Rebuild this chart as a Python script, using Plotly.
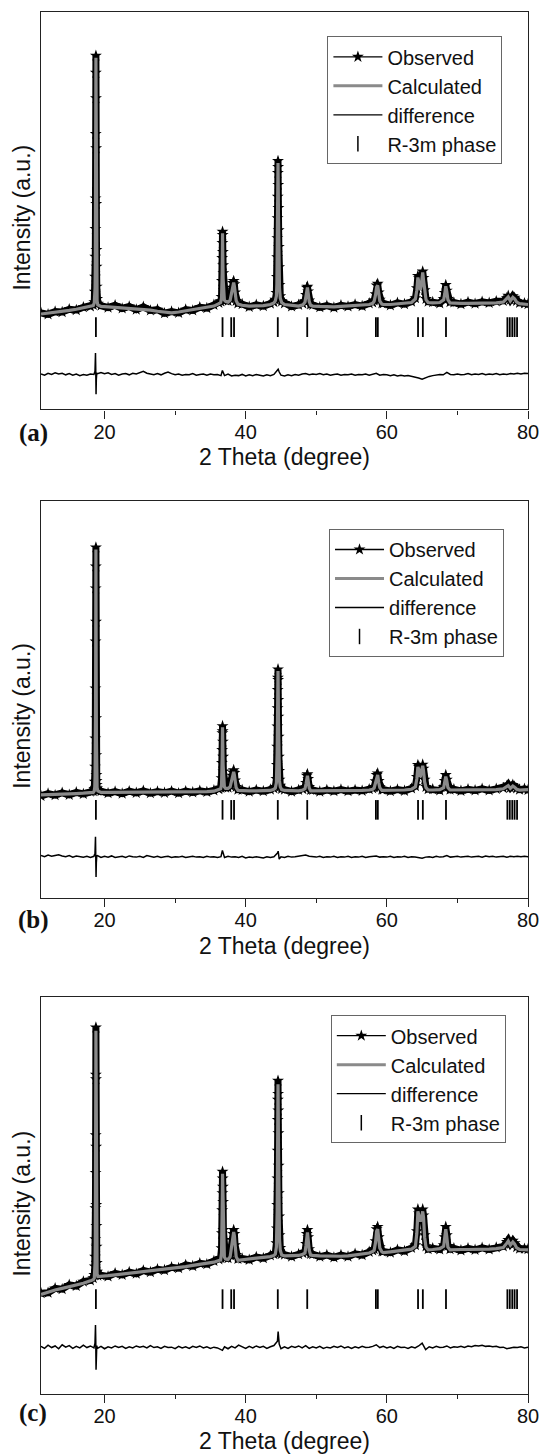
import plotly.graph_objects as go

# ---------------- data ----------------
# shared 2-theta sampling for observed / calculated profiles
TWO_THETA = [
    11.0, 12.0, 13.0, 14.0, 15.0, 16.0, 17.0, 18.0, 18.4,
    18.55, 18.62, 18.66, 18.69, 18.71, 18.73, 18.75, 18.77, 18.78, 18.79, 18.81, 18.83, 18.85, 18.87, 18.90, 18.95, 19.05,
    19.5, 20.5, 21.5, 22.5, 23.5, 24.5, 25.5, 26.5, 27.5, 28.5, 29.5, 30.5, 31.5, 32.5, 33.5, 34.5, 35.5, 36.2,
    36.45, 36.58, 36.63, 36.67, 36.70, 36.72, 36.74, 36.77, 36.80, 36.84, 36.89, 36.98, 37.15,
    37.5, 37.8, 37.95, 38.1, 38.2, 38.3, 38.4, 38.5, 38.65, 38.9,
    39.5, 40.5, 41.5, 42.5, 43.5, 44.0,
    44.2, 44.35, 44.42, 44.46, 44.49, 44.52, 44.54, 44.56, 44.58, 44.60, 44.62, 44.64, 44.67, 44.70, 44.74, 44.79, 44.9, 45.1,
    45.5, 46.5, 47.5, 48.1,
    48.4, 48.55, 48.65, 48.75, 48.85, 49.0, 49.2,
    49.5, 50.5, 51.5, 52.5, 53.5, 54.5, 55.5, 56.5, 57.5, 58.0,
    58.2, 58.4, 58.55, 58.7, 58.85, 59.0, 59.3,
    59.5, 60.5, 61.5, 62.5, 63.5,
    64.05, 64.25, 64.4, 64.55, 64.75, 64.9, 65.08, 65.2, 65.35, 65.55, 65.85,
    66.5, 67.5,
    68.05, 68.2, 68.35, 68.5, 68.65, 68.95,
    69.5, 70.5, 71.5, 72.5, 73.5, 74.5, 75.5, 76.5,
    77.0, 77.2, 77.5, 77.85, 78.1, 78.4, 78.8,
    79.5, 80.0,
]

OBS_A = [
    24.3, 23.9, 24.6, 24.5, 25.2, 25.0, 25.7, 25.9, 26.3,
    27.0, 29.6, 33.4, 38.4, 45.4, 53.1, 69.3, 84.7, 89.0, 78.3, 65.7, 51.7, 40.1, 35.9, 30.9, 27.8, 26.6,
    26.1, 25.6, 26.2, 25.4, 25.9, 25.1, 25.8, 24.9, 25.1, 24.2, 24.6, 24.3, 25.1, 24.9, 25.7, 25.5, 26.3, 26.8,
    27.2, 28.3, 32.3, 38.1, 41.9, 44.7, 43.9, 39.6, 36.3, 34.3, 30.0, 28.3, 27.4,
    27.3, 27.9, 29.3, 30.6, 31.8, 32.3, 31.5, 29.4, 27.3, 26.7,
    26.5, 25.8, 26.3, 26.0, 26.6, 27.0,
    27.6, 29.3, 33.3, 38.3, 43.1, 48.1, 53.5, 59.5, 62.5, 61.0, 56.5, 50.7, 45.1, 40.9, 35.8, 31.3, 28.5, 27.2,
    26.7, 25.9, 26.3, 26.6,
    27.2, 28.8, 30.6, 30.9, 29.7, 27.4, 26.4,
    26.3, 25.7, 26.1, 25.6, 26.2, 25.9, 26.4, 26.0, 26.7, 26.9,
    27.4, 29.0, 31.2, 31.6, 29.4, 27.6, 26.7,
    26.7, 26.2, 26.8, 26.5, 27.1,
    28.0, 30.5, 33.6, 33.0, 30.8, 32.4, 34.7, 33.1, 30.0, 27.8, 27.1,
    27.0, 26.7,
    27.8, 29.3, 31.3, 29.9, 27.8, 27.0,
    26.9, 26.5, 27.0, 26.6, 27.1, 26.8, 27.2, 27.3,
    28.0, 28.6, 27.6, 28.5, 28.1, 27.3, 26.8,
    26.7, 26.5,
]
CALC_A = [
    24.0, 24.2, 24.4, 24.7, 24.9, 25.2, 25.5, 25.8, 26.1,
    26.8, 28.0, 30.5, 35.0, 40.0, 48.0, 62.0, 80.0, 88.5, 82.0, 66.0, 50.0, 40.0, 34.0, 29.5, 27.3, 26.3,
    25.9, 25.8, 25.7, 25.6, 25.5, 25.4, 25.2, 25.0, 24.7, 24.4, 24.3, 24.5, 24.8, 25.1, 25.4, 25.7, 26.0, 26.6,
    26.9, 28.0, 30.0, 34.5, 40.0, 44.3, 42.0, 37.0, 33.0, 30.0, 28.3, 27.5, 27.2,
    27.0, 27.5, 28.6, 30.0, 31.2, 31.9, 31.0, 29.0, 27.4, 26.5,
    26.2, 26.0, 26.0, 26.1, 26.4, 26.8,
    27.3, 28.5, 31.5, 36.0, 41.0, 47.0, 53.0, 59.0, 62.0, 60.0, 55.0, 49.5, 44.0, 39.5, 34.5, 30.5, 28.0, 26.9,
    26.4, 26.1, 26.0, 26.3,
    27.0, 28.5, 30.2, 30.7, 29.3, 27.2, 26.2,
    26.0, 25.9, 25.8, 25.8, 25.9, 26.0, 26.1, 26.2, 26.4, 26.7,
    27.2, 28.8, 30.8, 31.2, 29.0, 27.3, 26.5,
    26.4, 26.4, 26.5, 26.6, 26.9,
    27.8, 30.0, 33.2, 32.0, 30.0, 31.5, 34.5, 32.5, 29.5, 27.6, 26.9,
    26.8, 26.9,
    27.6, 29.0, 31.0, 29.6, 27.6, 26.8,
    26.7, 26.7, 26.7, 26.7, 26.7, 26.7, 26.8, 27.0,
    27.8, 28.3, 27.3, 28.2, 27.8, 27.0, 26.6,
    26.5, 26.4,
]

OBS_B = [
    25.7, 26.3, 25.9, 26.5, 26.0, 26.6, 26.2, 26.8, 26.9,
    27.5, 29.3, 33.1, 40.2, 52.8, 64.6, 78.0, 83.5, 88.3, 69.6, 45.3, 36.0, 31.0, 29.5, 28.5, 27.6, 27.0,
    26.9, 26.4, 26.8, 26.3, 26.9, 26.5, 27.0, 26.4, 26.8, 26.5, 26.9, 26.4, 26.9, 26.6, 27.0, 26.7, 27.1, 27.4,
    27.8, 30.2, 34.0, 37.3, 41.5, 43.3, 42.0, 39.4, 35.6, 31.9, 29.5, 28.3, 27.8,
    27.8, 28.3, 29.8, 30.8, 31.6, 32.2, 31.5, 29.6, 28.0, 27.3,
    27.2, 26.8, 27.2, 26.9, 27.3, 27.6,
    28.0, 30.0, 33.5, 38.1, 43.2, 47.8, 52.4, 55.5, 57.6, 54.9, 49.9, 45.7, 40.6, 35.6, 32.0, 29.8, 28.3, 27.5,
    27.3, 26.8, 27.2, 27.4,
    27.8, 29.0, 30.8, 31.2, 30.0, 28.0, 27.2,
    27.2, 26.8, 27.2, 26.9, 27.3, 26.9, 27.2, 27.0, 27.4, 27.6,
    27.9, 29.4, 31.0, 31.4, 29.5, 28.0, 27.3,
    27.3, 26.9, 27.3, 27.0, 27.6,
    28.2, 30.5, 33.5, 33.0, 31.3, 32.5, 33.6, 32.6, 29.8, 28.0, 27.4,
    27.4, 27.1,
    28.0, 29.5, 31.0, 29.8, 28.0, 27.3,
    27.4, 27.0, 27.4, 27.1, 27.5, 27.1, 27.5, 27.7,
    28.2, 28.6, 27.8, 28.5, 28.1, 27.6, 27.3,
    27.5, 27.2,
]
CALC_B = [
    26.0, 26.1, 26.1, 26.2, 26.2, 26.3, 26.4, 26.5, 26.6,
    27.0, 28.0, 30.5, 35.0, 40.0, 48.0, 62.0, 80.0, 87.8, 82.0, 66.0, 50.0, 40.0, 34.0, 29.8, 27.8, 27.0,
    26.6, 26.6, 26.6, 26.6, 26.6, 26.6, 26.6, 26.6, 26.6, 26.6, 26.6, 26.6, 26.7, 26.7, 26.8, 26.8, 26.9, 27.2,
    27.5, 28.5, 31.0, 35.5, 40.5, 43.0, 41.0, 37.0, 33.5, 30.5, 28.8, 28.0, 27.6,
    27.6, 28.0, 29.3, 30.3, 31.2, 31.8, 31.0, 29.2, 27.8, 27.1,
    27.0, 27.0, 27.0, 27.0, 27.1, 27.4,
    27.7, 29.0, 32.0, 36.5, 41.5, 46.5, 51.5, 55.5, 57.2, 55.0, 50.5, 45.5, 40.5, 36.0, 32.0, 29.5, 28.0, 27.3,
    27.1, 27.0, 27.0, 27.2,
    27.5, 28.7, 30.4, 30.8, 29.6, 27.7, 27.0,
    27.0, 27.0, 27.0, 27.0, 27.0, 27.0, 27.0, 27.1, 27.2, 27.4,
    27.7, 29.0, 30.7, 31.0, 29.1, 27.8, 27.1,
    27.1, 27.1, 27.1, 27.2, 27.4,
    28.0, 30.0, 33.0, 32.2, 30.5, 32.0, 33.3, 32.0, 29.3, 27.8, 27.2,
    27.2, 27.3,
    27.8, 29.2, 30.6, 29.5, 27.8, 27.2,
    27.2, 27.2, 27.2, 27.2, 27.2, 27.2, 27.3, 27.5,
    28.0, 28.3, 27.6, 28.2, 27.9, 27.4, 27.2,
    27.3, 27.3,
]

OBS_C = [
    25.4, 25.5, 26.6, 26.4, 27.5, 27.2, 28.3, 28.6, 29.2,
    30.0, 32.1, 34.6, 39.0, 46.8, 55.7, 65.2, 80.4, 92.3, 79.3, 62.3, 47.6, 42.3, 37.1, 33.0, 30.8, 29.8,
    29.9, 29.6, 30.4, 30.0, 30.7, 30.3, 31.1, 30.7, 31.4, 31.2, 31.9, 31.7, 32.5, 32.2, 32.9, 32.7, 33.5, 33.9,
    34.3, 36.7, 40.5, 46.3, 50.6, 56.0, 54.3, 52.2, 48.4, 41.3, 38.8, 35.5, 34.3,
    34.2, 35.0, 37.0, 38.8, 40.3, 41.3, 40.3, 37.5, 35.0, 34.0,
    34.1, 33.8, 34.5, 34.2, 34.9, 35.2,
    35.5, 38.0, 41.7, 47.6, 54.3, 61.3, 69.0, 74.1, 78.9, 75.6, 71.4, 65.7, 57.5, 50.6, 44.7, 40.0, 36.8, 35.3,
    35.1, 34.6, 35.2, 35.5,
    35.8, 37.8, 40.3, 41.3, 39.5, 36.5, 35.3,
    35.2, 34.6, 35.0, 34.4, 35.0, 34.6, 35.3, 35.0, 35.8, 36.2,
    36.5, 38.5, 41.5, 42.1, 39.5, 37.0, 35.9,
    35.9, 35.6, 36.3, 36.0, 36.8,
    37.5, 41.0, 46.5, 45.5, 43.8, 44.5, 46.5, 45.0, 40.0, 37.2, 36.5,
    36.7, 36.4,
    37.5, 39.5, 42.1, 40.0, 37.3, 36.5,
    36.7, 36.2, 36.7, 36.3, 36.8, 36.4, 36.9, 37.2,
    38.3, 38.8, 37.8, 38.6, 38.0, 37.0, 36.6,
    36.6, 36.5,
]
CALC_C = [
    25.1, 25.7, 26.2, 26.6, 27.0, 27.4, 27.9, 28.5, 28.8,
    29.2, 30.5, 33.0, 37.5, 42.5, 50.5, 64.0, 82.0, 91.5, 84.0, 68.0, 52.0, 42.0, 36.0, 32.0, 30.2, 29.6,
    29.6, 29.8, 30.0, 30.2, 30.3, 30.5, 30.7, 30.9, 31.1, 31.4, 31.6, 31.9, 32.1, 32.4, 32.6, 32.9, 33.2, 33.6,
    33.8, 35.5, 39.0, 45.0, 51.0, 55.5, 53.0, 48.0, 43.0, 38.5, 36.0, 34.5, 34.0,
    33.9, 34.6, 36.5, 38.3, 39.8, 40.8, 39.8, 37.0, 34.6, 33.7,
    33.8, 34.0, 34.2, 34.4, 34.6, 34.9,
    35.2, 37.0, 40.5, 46.0, 53.0, 60.0, 67.5, 74.0, 78.0, 75.5, 70.0, 63.5, 56.0, 49.5, 43.5, 39.0, 36.2, 35.0,
    34.8, 34.8, 34.9, 35.2,
    35.5, 37.5, 40.0, 40.7, 39.0, 36.2, 35.0,
    34.9, 34.8, 34.7, 34.6, 34.7, 34.8, 35.0, 35.2, 35.5, 35.9,
    36.2, 38.2, 41.0, 41.5, 39.0, 36.8, 35.8,
    35.6, 35.8, 36.0, 36.2, 36.5,
    37.2, 40.5, 46.0, 45.0, 43.5, 44.0, 46.0, 44.5, 39.5, 37.0, 36.3,
    36.4, 36.6,
    37.2, 39.2, 41.5, 39.5, 37.0, 36.3,
    36.4, 36.4, 36.4, 36.4, 36.4, 36.5, 36.6, 36.9,
    38.0, 38.5, 37.5, 38.3, 37.8, 36.8, 36.4,
    36.4, 36.3,
]

# difference curve (observed - calculated), drawn shifted below the pattern
DIFF_X = [
    11.0, 11.5, 12.0, 12.5, 13.0, 13.5, 14.0, 14.5, 15.0, 15.5, 16.0, 16.5, 17.0, 17.5, 18.0, 18.5,
    18.65, 18.72, 18.76, 18.80, 18.84, 18.90,
    19.0, 19.5, 20.0, 20.5, 21.0, 21.5, 22.0, 22.5, 23.0, 23.5, 24.0, 24.5, 25.0, 25.5, 26.0, 26.5, 27.0, 27.5,
    28.0, 28.5, 29.0, 29.5, 30.0, 30.5, 31.0, 31.5, 32.0, 32.5, 33.0, 33.5, 34.0, 34.5, 35.0, 35.5, 36.0, 36.5,
    36.7,
    37.0, 37.5, 38.0, 38.5, 39.0, 39.5, 40.0, 40.5, 41.0, 41.5, 42.0, 42.5, 43.0, 43.5, 44.0, 44.5,
    44.6, 44.75,
    45.0, 45.5, 46.0, 46.5, 47.0, 47.5, 48.0, 48.5, 49.0, 49.5, 50.0, 50.5, 51.0, 51.5, 52.0, 52.5, 53.0, 53.5,
    54.0, 54.5, 55.0, 55.5, 56.0, 56.5, 57.0, 57.5, 58.0, 58.5, 59.0, 59.5, 60.0, 60.5, 61.0, 61.5, 62.0, 62.5,
    63.0, 63.5, 64.0, 64.5, 65.0, 65.5, 66.0, 66.5, 67.0, 67.5, 68.0, 68.5, 69.0, 69.5, 70.0, 70.5, 71.0, 71.5,
    72.0, 72.5, 73.0, 73.5, 74.0, 74.5, 75.0, 75.5, 76.0, 76.5, 77.0, 77.5, 78.0, 78.5, 79.0, 79.5, 80.0,
]
DIFF_A = [
    0.1, -0.2, 0.3, 0.0, 0.4, 0.1, 0.3, -0.1, 0.2, -0.2, 0.1, -0.3, 0.0, -0.2, 0.1, 0.0,
    0.8, 5.4, 1.0, -5.0, -1.2, 0.3,
    0.2, 0.5, 0.2, 0.4, 0.0, 0.2, -0.2, 0.1, 0.2, -0.1, 0.3, 0.1, 0.4, 0.8, 0.3, 0.1, -0.1, 0.2,
    -0.1, 0.3, 0.6, 0.2, -0.1, 0.1, -0.2, 0.0, -0.1, 0.2, -0.2, 0.0, 0.1, -0.2, 0.1, -0.1, 0.0, -0.3,
    1.0,
    -0.3, 0.1, -0.4, -0.2, -0.3, 0.0, -0.4, -0.1, -0.3, 0.0, -0.2, -0.4, -0.1, -0.3, 0.0, 1.2,
    1.3, 0.6,
    -0.2, -0.4, -0.1, -0.3, 0.0, -0.2, 0.1, 0.2, -0.1, 0.1, 0.0, 0.2, -0.1, 0.1, -0.2, 0.0, 0.1, -0.2,
    0.0, -0.1, 0.1, -0.2, 0.0, -0.1, 0.1, -0.2, 0.0, 0.3, -0.2, 0.0, -0.1, -0.3, -0.1, -0.4, -0.2, -0.4,
    -0.3, -0.5, -0.6, -0.9, -1.2, -0.8, -0.5, -0.3, -0.2, 0.0, -0.1, 0.5, 0.0, -0.1, 0.1, -0.1, 0.0, 0.2,
    -0.1, 0.1, 0.0, 0.2, -0.1, 0.1, 0.0, 0.2, -0.1, 0.1, 0.0, 0.2, 0.1, 0.3, 0.1, 0.3, 0.2,
]
DIFF_B = [
    0.3, 0.0, 0.4, 0.1, 0.3, 0.5, 0.2, 0.0, 0.3, -0.1, 0.2, 0.0, -0.1, 0.1, -0.2, 0.1,
    0.9, 5.0, 1.2, -5.1, -1.5, 0.2,
    0.3, -0.2, 0.1, -0.1, 0.2, -0.2, 0.0, 0.1, -0.2, 0.2, 0.0, -0.1, 0.1, -0.2, 0.3, 0.0, -0.1, 0.1,
    -0.2, 0.0, 0.1, -0.2, 0.0, -0.1, 0.1, -0.2, 0.0, 0.1, -0.1, 0.0, -0.2, 0.1, -0.1, 0.0, -0.2, 0.0,
    1.6,
    -0.2, 0.1, -0.1, 0.0, -0.2, 0.1, -0.3, -0.1, -0.2, 0.0, -0.1, -0.3, 0.0, -0.2, 0.0, 0.9,
    1.4, -0.6,
    0.0, -0.2, 0.1, -0.1, 0.0, 0.1, 0.2, 0.4, 0.1, 0.0, -0.1, 0.1, -0.2, 0.0, -0.1, 0.1, -0.2, 0.0,
    -0.1, 0.1, -0.2, 0.0, -0.1, 0.1, -0.2, 0.0, 0.1, 0.2, -0.1, 0.0, -0.1, 0.1, -0.2, 0.0, -0.1, 0.1,
    -0.2, 0.0, -0.1, -0.2, -0.4, -0.1, 0.0, -0.2, 0.1, -0.1, 0.0, 0.3, -0.1, 0.0, 0.1, -0.1, 0.0, 0.1,
    -0.1, 0.0, 0.1, -0.1, 0.2, 0.0, 0.1, -0.1, 0.0, 0.1, -0.1, 0.1, 0.0, 0.1, 0.0, 0.1, 0.0,
]
DIFF_C = [
    0.2, -0.3, 0.5, -0.1, 0.3, -0.4, 0.6, 0.0, 0.4, -0.3, 0.2, -0.2, 0.5, -0.1, 0.3, -0.2,
    1.0, 5.6, 1.5, -5.7, -1.8, 0.4,
    -0.3, 0.2, -0.4, 0.1, -0.2, 0.3, -0.1, 0.2, -0.3, 0.1, -0.2, 0.3, 0.0, 0.2, -0.2, 0.4, -0.1, 0.1,
    -0.3, 0.2, -0.1, 0.0, -0.4, 0.2, -0.2, 0.1, -0.3, 0.2, -0.1, 0.3, -0.2, 0.1, -0.3, 0.0, -0.2, -0.5,
    -0.8,
    0.1, -0.4, 0.2, -0.2, 0.5, 0.0, -0.3, 0.2, -0.2, 0.3, -0.1, 0.2, -0.3, 0.1, 0.4, 1.5,
    3.9, 0.8,
    -0.4, 0.1, -0.3, 0.2, -0.1, 0.3, -0.2, 0.4, -0.3, 0.1, -0.2, 0.2, -0.3, 0.0, -0.2, 0.2, -0.1, 0.3,
    -0.2, 0.1, -0.3, 0.1, -0.2, 0.2, -0.1, 0.0, 0.2, 0.6, -0.1, 0.2, -0.2, 0.1, -0.3, 0.2, -0.1, 0.0,
    -0.3, 0.1, -0.2, 0.3, 1.0, -0.6, 0.1, -0.2, 0.2, -0.1, 0.0, 0.3, -0.2, 0.1, 0.0, 0.2, -0.1, 0.3,
    0.1, 0.4, 0.3, 0.5, 0.2, 0.3, 0.1, 0.2, -0.1, 0.0, -0.4, -0.2, 0.0, -0.1, 0.1, -0.2, 0.0,
]
DIFF_SHIFT = [8.8, 10.4, 11.8]

# Bragg reflection positions of the R-3m phase
R3M_POS = [18.78, 36.72, 37.95, 38.35, 44.55, 48.72, 58.45, 58.72, 64.42, 65.1,
           68.38, 77.08, 77.42, 77.77, 78.1, 78.45]
R3M_LEVEL = [20.7, 22.2, 23.9]

PANEL_TAGS = ["(a)", "(b)", "(c)"]
SERIES_NAMES = ["Observed", "Calculated", "difference", "R-3m phase"]
X_TITLE = "2 Theta (degree)"
Y_TITLE = "Intensity (a.u.)"
X_RANGE = [11, 80]
Y_RANGE = [0, 100]
X_TICKS = [20, 40, 60, 80]
X_MINOR = [30, 50, 70]

OBS = [OBS_A, OBS_B, OBS_C]
CALC = [CALC_A, CALC_B, CALC_C]
DIFF = [DIFF_A, DIFF_B, DIFF_C]
for arr in OBS + CALC:
    assert len(arr) == len(TWO_THETA), len(arr)
for arr in DIFF:
    assert len(arr) == len(DIFF_X), len(arr)

# ---------------- layout geometry / styles ----------------
W, H = 541, 1456
ML, MR = 41, 13
PW = W - ML - MR
Y_DOMAINS = [[0.71882, 0.99176], [0.38324, 0.65591], [0.04258, 0.31525]]
LEG_POS = [(0.5881, 0.97507), (0.5914, 0.63668), (0.5951, 0.30275)]
YTITLE_Y = [0.8506, 0.5084, 0.1734]
XTITLE_Y = [(0.68633, "middle"), (0.35027, "middle"), (0.0, "bottom")]
TAG_Y = [0.7026, 0.3681, 0.0295]

SANS = "Liberation Sans, Arial, Helvetica, sans-serif"
SERIF = "Liberation Serif, Times New Roman, serif"
AX_COLOR = "#222222"
CALC_COLOR = "#8a8a8a"
TXT = "#111111"

fig = go.Figure()
layout = dict(
    width=W, height=H,
    margin=dict(l=ML, r=MR, t=0, b=0),
    paper_bgcolor="white", plot_bgcolor="white",
    font=dict(family=SANS, color=TXT),
    showlegend=True,
    annotations=[],
)

for i in range(3):
    sfx = "" if i == 0 else str(i + 1)
    xa, ya = "x" + sfx, "y" + sfx
    leg = "legend" + sfx

    fig.add_trace(go.Scatter(
        x=TWO_THETA, y=OBS[i], xaxis=xa, yaxis=ya, mode="lines+markers",
        line=dict(color="black", width=7),
        marker=dict(symbol="star", size=9, color="black"),
        showlegend=False, hoverinfo="skip"))
    fig.add_trace(go.Scatter(
        x=TWO_THETA, y=CALC[i], xaxis=xa, yaxis=ya, mode="lines",
        line=dict(color=CALC_COLOR, width=3.2),
        showlegend=False, hoverinfo="skip"))
    fig.add_trace(go.Scatter(
        x=DIFF_X, y=[d + DIFF_SHIFT[i] for d in DIFF[i]], xaxis=xa, yaxis=ya,
        mode="lines", line=dict(color="black", width=1.5),
        showlegend=False, hoverinfo="skip"))
    fig.add_trace(go.Scatter(
        x=R3M_POS, y=[R3M_LEVEL[i]] * len(R3M_POS), xaxis=xa, yaxis=ya,
        mode="markers",
        marker=dict(symbol="line-ns-open", size=14, color="black",
                    line=dict(width=1.8, color="black")),
        showlegend=False, hoverinfo="skip"))

    # legend entries
    fig.add_trace(go.Scatter(
        x=[None], y=[None], xaxis=xa, yaxis=ya, name=SERIES_NAMES[0], legend=leg,
        mode="lines+markers", line=dict(color="black", width=1.3),
        marker=dict(symbol="star", size=9, color="black")))
    fig.add_trace(go.Scatter(
        x=[None], y=[None], xaxis=xa, yaxis=ya, name=SERIES_NAMES[1], legend=leg,
        mode="lines", line=dict(color=CALC_COLOR, width=3)))
    fig.add_trace(go.Scatter(
        x=[None], y=[None], xaxis=xa, yaxis=ya, name=SERIES_NAMES[2], legend=leg,
        mode="lines", line=dict(color="black", width=1.3)))
    fig.add_trace(go.Scatter(
        x=[None], y=[None], xaxis=xa, yaxis=ya, name=SERIES_NAMES[3], legend=leg,
        mode="markers",
        marker=dict(symbol="line-ns-open", size=11, color="black",
                    line=dict(width=1.5, color="black"))))

    layout["xaxis" + sfx] = dict(
        anchor=ya, domain=[0, 1], range=X_RANGE,
        tickmode="array", tickvals=X_TICKS, ticks="outside", ticklen=8,
        tickwidth=1.3, tickcolor=AX_COLOR, ticklabelstandoff=-4,
        minor=dict(tickmode="array", tickvals=X_MINOR, ticks="outside",
                   ticklen=4, tickwidth=1.3, tickcolor=AX_COLOR),
        showline=True, linecolor=AX_COLOR, linewidth=1.3, mirror=True,
        showgrid=False, zeroline=False,
        tickfont=dict(size=20, family=SANS, color=TXT),
    )
    layout["yaxis" + sfx] = dict(
        anchor=xa, domain=Y_DOMAINS[i], range=Y_RANGE,
        showticklabels=False, ticks="", showline=True, linecolor=AX_COLOR,
        linewidth=1.3, mirror=True, showgrid=False, zeroline=False,
    )
    layout[leg] = dict(
        x=LEG_POS[i][0], y=LEG_POS[i][1], xanchor="left", yanchor="top",
        bgcolor="white", bordercolor="#666666", borderwidth=1,
        font=dict(size=20, family=SANS, color=TXT),
        itemwidth=49, tracegroupgap=0,
    )
    # axis titles
    layout["annotations"].append(dict(
        text=X_TITLE, xref="paper", yref="paper", x=0.5, y=XTITLE_Y[i][0],
        xanchor="center", yanchor=XTITLE_Y[i][1], showarrow=False,
        font=dict(size=23, family=SANS, color=TXT)))
    layout["annotations"].append(dict(
        text=Y_TITLE, xref="paper", yref="paper", x=(22 - ML) / PW, y=YTITLE_Y[i],
        xanchor="center", yanchor="middle", textangle=-90, showarrow=False,
        font=dict(size=23, family=SANS, color=TXT)))
    # panel tag
    layout["annotations"].append(dict(
        text="<b>" + PANEL_TAGS[i] + "</b>", xref="paper", yref="paper",
        x=(33 - ML) / PW, y=TAG_Y[i], xanchor="center", yanchor="middle",
        showarrow=False, font=dict(size=25, family=SERIF, color=TXT)))

fig.update_layout(**layout)
fig.write_html("out.html", config={"displayModeBar": False},
               post_script="document.body.style.margin='0';")
